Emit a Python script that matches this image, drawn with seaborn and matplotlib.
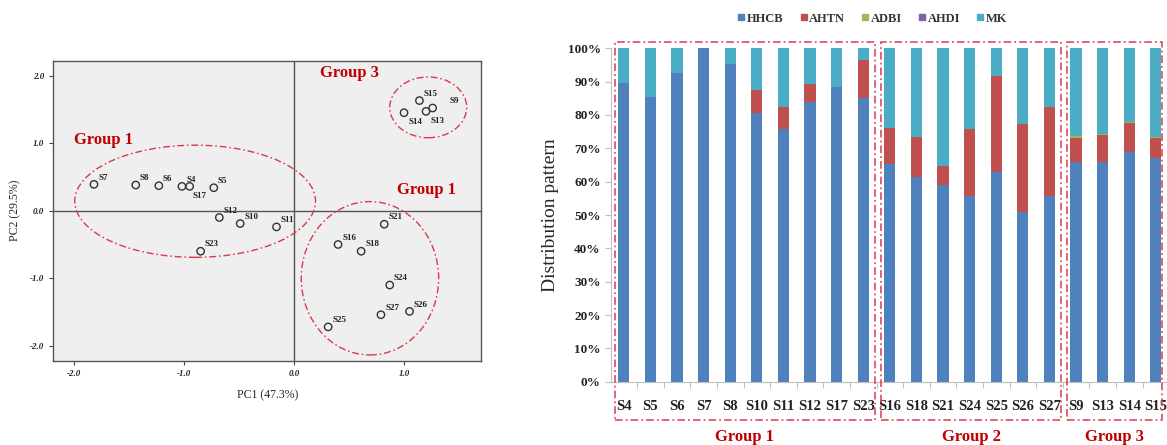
import numpy as np
import pandas as pd
import seaborn as sns
import matplotlib.pyplot as plt
from matplotlib.patches import Ellipse, Rectangle
from matplotlib.lines import Line2D

# PCA scores (left panel)
sites = ['S7', 'S8', 'S6', 'S4', 'S17', 'S5', 'S12', 'S10', 'S11', 'S23',
         'S15', 'S9', 'S13', 'S14', 'S21', 'S16', 'S18', 'S24', 'S27', 'S26', 'S25']
pc1 = [-1.82, -1.44, -1.23, -1.02, -0.95, -0.73, -0.68, -0.49, -0.16, -0.85,
       1.14, 1.26, 1.20, 1.00, 0.82, 0.40, 0.61, 0.87, 0.79, 1.05, 0.31]
pc2 = [0.39, 0.38, 0.37, 0.36, 0.36, 0.34, -0.10, -0.19, -0.24, -0.60,
       1.63, 1.52, 1.47, 1.45, -0.20, -0.50, -0.60, -1.10, -1.54, -1.49, -1.72]

# composition (right panel), percent
samples = ['S4', 'S5', 'S6', 'S7', 'S8', 'S10', 'S11', 'S12', 'S17', 'S23',
           'S16', 'S18', 'S21', 'S24', 'S25', 'S26', 'S27',
           'S9', 'S13', 'S14', 'S15']
hhcb = [89.7, 85.3, 92.7, 100.0, 95.3, 80.7, 75.7, 84.0, 88.5, 85.0,
        65.3, 61.5, 59.0, 55.7, 63.0, 51.0, 55.7,
        66.0, 66.0, 69.0, 67.0]
ahtn = [0, 0, 0, 0, 0, 6.8, 6.8, 5.3, 0, 11.5,
        10.7, 12.0, 5.7, 20.0, 28.7, 26.3, 26.8,
        7.2, 7.9, 8.6, 6.1]
adbi = [0] * 17 + [0.5, 0.4, 0.4, 0.4]
ahdi = [0] * 21
compounds = ['HHCB', 'AHTN', 'ADBI', 'AHDI', 'MK']
colors = ['#4F81BD', '#C0504D', '#9BBB59', '#8064A2', '#4BACC6']

groups = ['Group 1', 'Group 2', 'Group 3']
group_sizes = [10, 7, 4]

sns.set_style('ticks')
plt.rcParams['font.family'] = ['Liberation Serif', 'DejaVu Serif']
red = '#C00000'
dash_red = '#D93A4A'
dashdot = (0, (5, 2, 1.2, 2))

fig = plt.figure(figsize=(11.67, 4.45), dpi=100)

# ---------------- left: PCA scatter ----------------
ax1 = fig.add_axes([53.3 / 1167, 1 - 360.7 / 445, (481 - 53.3) / 1167, 300 / 445])
ax1.set_facecolor('#EFEFEF')
pca = pd.DataFrame({'site': sites, 'PC1': pc1, 'PC2': pc2})
ax1.axhline(0, color='#555555', lw=1, zorder=1)
ax1.axvline(0, color='#555555', lw=1, zorder=1)
sns.scatterplot(data=pca, x='PC1', y='PC2', ax=ax1, marker='o', s=28,
                facecolor='none', edgecolor='#333333', linewidth=1, zorder=3)

offsets = {'S17': (2, -4, 'top'), 'S14': (3, -4, 'top'), 'S13': (3, -4, 'top'),
           'S9': (12, 2, 'bottom')}
for s, x, y in zip(sites, pc1, pc2):
    dx, dy, va = offsets.get(s, (3, 2, 'bottom'))
    ax1.annotate(s, (x, y), xytext=(dx, dy), textcoords='offset points',
                 fontsize=6.5, fontweight='bold', ha='left', va=va, color='#222222')

for (cx, cy, w, h) in [(-0.9, 0.14, 2.19, 1.66), (0.69, -1.0, 1.25, 2.27), (1.22, 1.53, 0.70, 0.90)]:
    ax1.add_patch(Ellipse((cx, cy), w, h, fill=False, ec=dash_red, ls=dashdot, lw=1, zorder=2))

ax1.text(-2.0, 1.05, 'Group 1', color=red, fontsize=12, fontweight='bold', va='center')
ax1.text(0.94, 0.30, 'Group 1', color=red, fontsize=12, fontweight='bold', va='center')
ax1.text(0.24, 2.04, 'Group 3', color=red, fontsize=12, fontweight='bold', va='center')

ax1.set_xlim(-2.19, 1.70)
ax1.set_ylim(-2.22, 2.22)
ax1.set_xticks([-2, -1, 0, 1])
ax1.set_yticks([-2, -1, 0, 1, 2])
ax1.set_xticklabels(['-2.0', '-1.0', '0.0', '1.0'])
ax1.set_yticklabels(['-2.0', '-1.0', '0.0', '1.0', '2.0'])
ax1.tick_params(length=3, width=0.8, color='#444444', labelsize=6.5)
for lab in ax1.get_xticklabels() + ax1.get_yticklabels():
    lab.set_fontweight('bold')
    lab.set_fontstyle('italic')
for sp in ax1.spines.values():
    sp.set_color('#555555')
    sp.set_linewidth(1)
ax1.set_xlabel('PC1 (47.3%)', fontsize=8.5, labelpad=8)
ax1.set_ylabel('PC2 (29.5%)', fontsize=8.5, labelpad=6)

# ---------------- right: stacked bars ----------------
ax2 = fig.add_axes([610.5 / 1167, 1 - 381.7 / 445, 1 - 610.5 / 1167, 333.4 / 445])
comp = pd.DataFrame({'sample': samples, 'HHCB': hhcb, 'AHTN': ahtn, 'ADBI': adbi, 'AHDI': ahdi})
comp['MK'] = 100 - comp[['HHCB', 'AHTN', 'ADBI', 'AHDI']].sum(axis=1)
cum = comp[compounds].cumsum(axis=1) / 100
cum['sample'] = samples
for name, c in reversed(list(zip(compounds, colors))):
    sns.barplot(data=cum, x='sample', y=name, order=samples, color=c, saturation=1,
                width=0.42, linewidth=0, ax=ax2)

ax2.set_xlim(-0.5, 20.42)
ax2.set_ylim(0, 1)
ax2.set_yticks(np.arange(0, 1.01, 0.1))
ax2.set_yticklabels([f'{v}%' for v in range(0, 101, 10)])
ax2.set_xticks(range(len(samples)))
ax2.set_xticklabels(samples)
ax2.set_xticks(np.arange(0.5, len(samples) - 0.5), minor=True)
ax2.tick_params(axis='x', which='major', length=0, pad=13, labelsize=10.5)
ax2.tick_params(axis='x', which='minor', length=4, color='#BFBFBF', width=0.8)
ax2.tick_params(axis='y', length=4, color='#BFBFBF', width=0.8, labelsize=9.5, pad=3)
for lab in ax2.get_xticklabels() + ax2.get_yticklabels():
    lab.set_fontweight('bold')
    lab.set_color('#222222')
sns.despine(ax=ax2)
ax2.spines['left'].set_color('#BFBFBF')
ax2.spines['bottom'].set_color('#BFBFBF')
ax2.set_xlabel('')
ax2.set_ylabel('Distribution pattern', fontsize=14, labelpad=6)

# group boxes and labels
start = 0
for g, n in zip(groups, group_sizes):
    x0 = start - 0.33
    x1 = start + n - 1 + 0.44 if start + n < len(samples) else start + n - 1 + 0.25
    ax2.add_patch(Rectangle((x0, -0.115), x1 - x0, 1.135, fill=False, ec=dash_red,
                            ls=dashdot, lw=1.1, clip_on=False, zorder=5))
    ax2.text((x0 + x1) / 2, -0.166, g, ha='center', va='center', color=red,
             fontsize=12, fontweight='bold', clip_on=False)
    start += n

handles = [Line2D([], [], marker='s', ls='', color=c, markersize=5) for c in colors]
leg = fig.legend(handles, compounds, loc='center', bbox_to_anchor=(0.747, 0.958), ncol=5,
                 frameon=False, handletextpad=0.05, columnspacing=1.2, handlelength=0.8,
                 prop={'size': 9, 'weight': 'bold'})
for t in leg.get_texts():
    t.set_color('#333333')

fig.savefig('out.png', dpi=100)
